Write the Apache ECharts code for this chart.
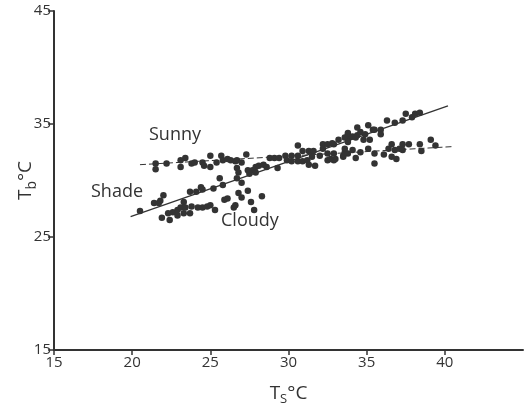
<!DOCTYPE html>
<html>
<head>
<meta charset="utf-8">
<script src="https://cdn.jsdelivr.net/npm/echarts@6/dist/echarts.min.js"></script>
<style>
html,body{margin:0;padding:0;background:#fff;}
#c{width:526px;height:413px;}
</style>
</head>
<body>
<div id="c"></div>
<script>
// Tick labels
const xTicks = [15, 20, 25, 30, 35, 40];
const yTicks = [15, 25, 35, 45];

// Sunny points [Ts, Tb]
const sunny = [
 [21.5,31.5],[21.5,31.0],[22.2,31.5],[23.1,31.8],[23.4,32.0],[23.1,31.2],[23.8,31.5],[24.0,31.6],
 [24.5,31.6],[24.6,31.3],[25.0,32.2],[25.0,31.2],[25.4,31.6],[25.7,32.2],[25.8,31.8],[26.1,31.9],
 [26.3,31.8],[26.6,31.7],[26.7,31.8],[27.0,31.6],[27.3,32.3],[26.7,31.1],[26.8,30.7],[27.4,30.9],
 [27.7,30.9],[27.9,31.2],[28.1,31.3],[28.4,31.4],[28.6,31.2],[28.8,32.0],[29.1,32.0],[29.3,31.1],
 [29.4,32.0],[29.8,32.2],[29.9,31.8],[30.2,32.2],[30.6,32.2],[30.9,32.6],[31.3,32.6],[31.6,32.6],
 [31.5,32.1],[32.0,32.2],[32.5,32.4],[32.9,32.4],[33.5,32.2],[33.8,32.4],[30.2,31.7],[30.6,31.7],
 [30.9,31.7],[31.2,31.8],[31.3,31.4],[31.7,31.3],[32.5,31.8],[32.9,31.8],[32.7,31.9],[33.0,31.9],
 [33.5,32.1],[33.6,32.5],[34.1,32.7],[34.3,32.0],[34.6,32.5],[35.1,32.8],[35.5,31.5],[35.5,32.4],
 [36.1,32.3],[36.4,32.8],[36.6,33.2],[36.6,32.1],[36.8,32.7],[36.9,31.9],[37.1,32.8],[37.3,33.2],
 [37.3,32.7],[37.7,33.2],[38.4,33.2],[38.5,32.6],[39.1,33.6],[39.4,33.1]
];

// Shade points [Ts, Tb]
const shade = [
 [20.5,27.3],[21.4,28.0],[21.7,28.0],[21.8,28.2],[22.0,28.7],[23.3,28.1],[23.7,29.0],[24.1,29.0],
 [24.4,29.4],[24.5,29.2],[25.2,29.3],[25.6,30.2],[25.8,29.6],[26.7,30.2],[27.0,29.8],[27.5,30.6],
 [27.9,30.7],[30.6,33.1],[32.2,33.2],[32.5,33.2],[32.9,33.2],[33.2,33.6],[33.8,34.1],[32.2,32.8],
 [33.6,32.8],[32.8,33.3],[33.8,33.6],[33.8,34.2],[34.1,33.9],[34.4,34.7],[34.4,34.0],[34.6,34.3],
 [34.8,33.6],[34.9,34.1],[35.1,34.9],[35.2,33.6],[35.4,34.5],[35.5,34.5],[35.9,34.5],[35.9,34.1],
 [36.3,35.3],[36.8,35.1],[37.3,35.3],[37.5,35.9],[37.9,35.6],[38.1,35.9],[38.4,36.0],[33.6,33.8],
 [34.3,33.8],[33.8,33.4]
];

// Cloudy points [Ts, Tb]
const cloudy = [
 [21.9,26.7],[22.4,26.5],[22.3,27.1],[22.6,27.2],[22.9,27.4],[22.9,26.9],[23.1,27.6],[23.4,27.6],
 [23.8,27.7],[23.3,27.1],[23.7,27.1],[24.2,27.6],[24.5,27.6],[24.8,27.7],[25.0,27.8],[25.3,27.4],
 [25.9,28.3],[26.1,28.4],[26.5,27.6],[26.6,27.8],[26.8,28.9],[27.4,29.1],[27.0,28.5],[27.6,28.1],
 [28.3,28.6],[27.8,27.4]
];

// Regression line end points [Ts, Tb]
const sunnyFit = [[20.5,31.4],[40.5,33.0]];
const shadeFit = [[19.9,26.8],[40.2,36.6]];

const ink = '#333333';
const font = '"Open Sans", "Noto Sans", sans-serif';

const chart = echarts.init(document.getElementById('c'));
const pt = (name, data) => ({
  name, type: 'scatter', data, symbol: 'circle', symbolSize: 6.5,
  itemStyle: { color: ink, opacity: 1 }, z: 3, silent: true
});
chart.setOption({
  animation: false,
  backgroundColor: '#fff',
  grid: { left: 54, right: 3, top: 11, bottom: 63, containLabel: false, outerBoundsMode: 'none' },
  xAxis: {
    type: 'value', min: 15, max: 45, interval: 5,
    name: '{t|T}{s|S}{t|°C}', nameLocation: 'middle', nameGap: 31, nameMoveOverlap: false,
    nameTextStyle: { rich: {
      t: { fontFamily: font, fontSize: 19, color: ink },
      s: { fontFamily: font, fontSize: 13, color: ink, padding: [12, 0, 0, 0] }
    } },
    splitLine: { show: false },
    axisLine: { onZero: false, lineStyle: { color: ink, width: 2 } },
    axisTick: { show: true, length: 5, lineStyle: { color: ink, width: 1.5 }, customValues: xTicks },
    axisLabel: { color: ink, fontSize: 15, fontFamily: font, margin: 5, customValues: xTicks }
  },
  yAxis: {
    type: 'value', min: 15, max: 45, interval: 10,
    name: '{t|T}{s|b}{t|°C}', nameLocation: 'middle', nameGap: 15, nameRotate: 90, nameMoveOverlap: false,
    nameTextStyle: { rich: {
      t: { fontFamily: font, fontSize: 19, color: ink },
      s: { fontFamily: font, fontSize: 14, color: ink, padding: [12, 0, 0, 0] }
    } },
    splitLine: { show: false },
    axisLine: { onZero: false, lineStyle: { color: ink, width: 2 } },
    axisTick: { show: true, length: 6, lineStyle: { color: ink, width: 1.5 }, customValues: yTicks },
    axisLabel: { color: ink, fontSize: 15, fontFamily: font, margin: 3, customValues: yTicks }
  },
  series: [
    { name: 'sunnyFit', type: 'line', data: sunnyFit, symbol: 'none', silent: true,
      lineStyle: { color: ink, width: 1, type: [6, 3] }, z: 2 },
    { name: 'shadeFit', type: 'line', data: shadeFit, symbol: 'none', silent: true,
      lineStyle: { color: ink, width: 1.3 }, z: 2 },
    pt('Sunny', sunny),
    pt('Shade', shade),
    pt('Cloudy', cloudy)
  ],
  graphic: [
    { type: 'text', left: 149, top: 126, style: { text: 'Sunny', font: '18px ' + font, fill: ink } },
    { type: 'text', left: 91, top: 183, style: { text: 'Shade', font: '18px ' + font, fill: ink } },
    { type: 'text', left: 221, top: 212, style: { text: 'Cloudy', font: '18px ' + font, fill: ink } }
  ]
});
</script>
</body>
</html>
